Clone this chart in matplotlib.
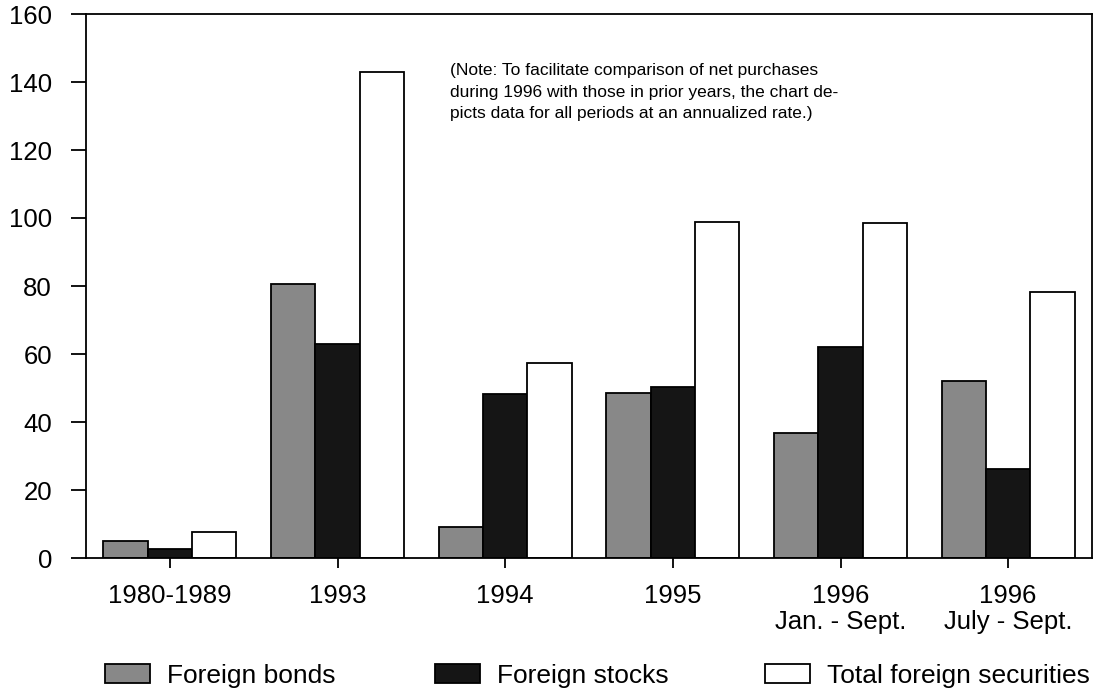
import numpy as np
import matplotlib.pyplot as plt
from matplotlib import font_manager

plt.rcParams['font.family'] = ['Liberation Sans', 'DejaVu Sans']

# data (annualized net purchases)
periods = ['1980-1989', '1993', '1994', '1995', '1996\nJan. - Sept.', '1996\nJuly - Sept.']
bonds = [4.9, 80.5, 9.2, 48.6, 36.8, 52.1]
stocks = [2.7, 62.8, 48.1, 50.4, 62.1, 26.3]
total = [7.7, 143.0, 57.3, 98.8, 98.6, 78.1]
series_names = ['Foreign bonds', 'Foreign stocks', 'Total foreign securities']
colors = ['#888888', '#151515', '#ffffff']
note = ("(Note: To facilitate comparison of net purchases\n"
        "during 1996 with those in prior years, the chart de-\n"
        "picts data for all periods at an annualized rate.)")

# the note is set in a condensed face; use Liberation Sans Narrow if it is there
try:
    font_manager.findfont('Liberation Sans Narrow', fallback_to_default=False)
    note_font, note_size, note_ls = 'Liberation Sans Narrow', 15, 1.2
except ValueError:
    note_font, note_size, note_ls = 'Liberation Sans', 12.5, 1.55

fig = plt.figure(figsize=(10.99, 6.94), dpi=100)
ax = fig.add_axes([86 / 1099, 1 - 558 / 694, (1092 - 86) / 1099, (558 - 14) / 694])

x = np.arange(len(periods))
w = 0.265
bars = []
for i, vals in enumerate([bonds, stocks, total]):
    b = ax.bar(x + (i - 1) * w, vals, width=w, color=colors[i],
               edgecolor='black', linewidth=1.3, label=series_names[i])
    bars.append(b)

ax.set_xlim(-0.5, len(periods) - 0.5)
ax.set_ylim(0, 160)
ax.set_yticks(np.arange(0, 161, 20))
ax.set_xticks(x)
ax.set_xticklabels(periods, linespacing=1.1)

for s in ax.spines.values():
    s.set_linewidth(1.3)
ax.tick_params(axis='y', direction='out', length=11, width=1.3, pad=13.5, labelsize=18.5)
ax.tick_params(axis='x', direction='out', length=7.5, width=1.3, pad=11, labelsize=18.5)

fig.text(450 / 1099, 1 - 63 / 694, note, fontsize=note_size, family=note_font,
         va='top', ha='left', linespacing=note_ls)

# legend: three separate entries spaced evenly across the bottom
for i, xp in enumerate([105, 435, 765]):
    fig.legend(handles=[bars[i]], labels=[series_names[i]], loc='center left',
               bbox_to_anchor=(xp / 1099, 1 - 675.5 / 694), frameon=False,
               fontsize=19, handlelength=1.7, handleheight=0.72,
               handletextpad=0.64, borderpad=0, borderaxespad=0)

plt.savefig('out.png', dpi=100)
